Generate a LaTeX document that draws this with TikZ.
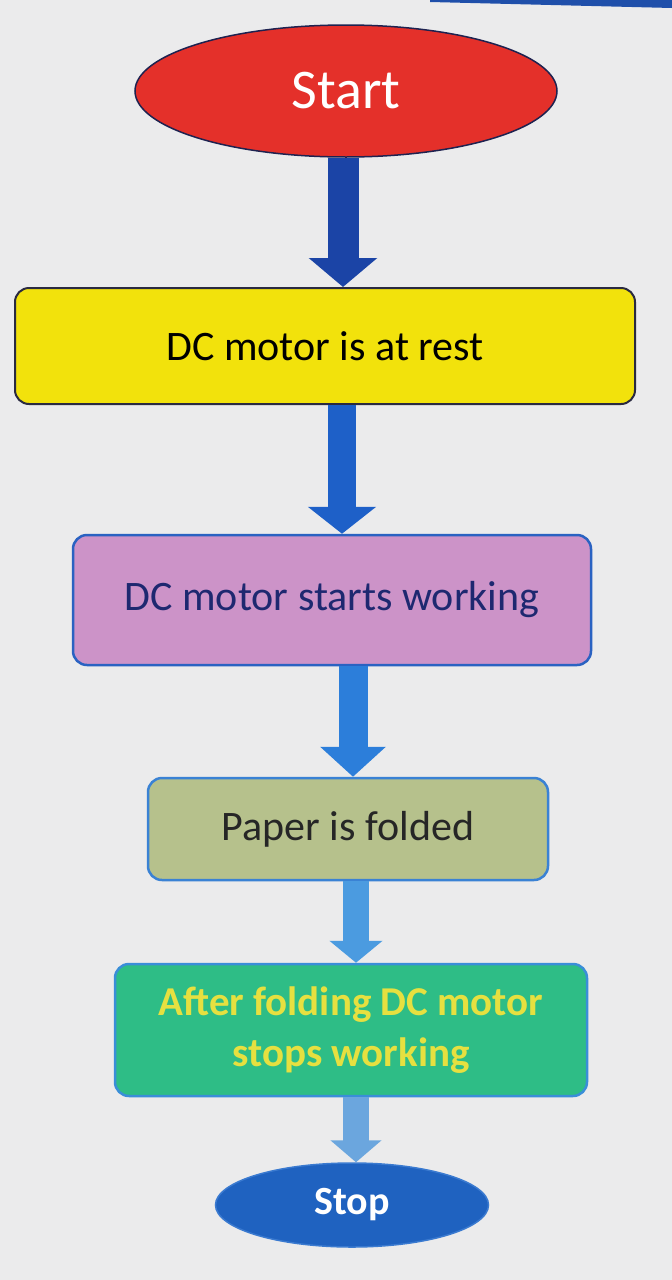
\documentclass[tikz,border=0pt]{standalone}
\usepackage{fontspec}
\setmainfont{Carlito}
\usetikzlibrary{arrows.meta,shapes.geometric}
\definecolor{bg}{HTML}{EBEBEC}
\definecolor{startred}{HTML}{E4302A}
\definecolor{startedge}{HTML}{1E2250}
\definecolor{yel}{HTML}{F2E20C}
\definecolor{yeledge}{HTML}{2A2A40}
\definecolor{pink}{HTML}{CC93C8}
\definecolor{pinkedge}{HTML}{2A62C2}
\definecolor{navytext}{HTML}{1E2870}
\definecolor{khaki}{HTML}{B6C18C}
\definecolor{khakiedge}{HTML}{3A82D4}
\definecolor{grn}{HTML}{2EBD86}
\definecolor{grnedge}{HTML}{3A8ED8}
\definecolor{yeltext}{HTML}{E6E040}
\definecolor{stopblue}{HTML}{1F62C0}
\definecolor{stopedge}{HTML}{3A7AD0}
\definecolor{aone}{HTML}{1B44A6}
\definecolor{atwo}{HTML}{1E60C8}
\definecolor{athree}{HTML}{2C7EDA}
\definecolor{afour}{HTML}{4B9BE0}
\definecolor{afive}{HTML}{6BA6DE}
\definecolor{topline}{HTML}{1F4FAA}
\tikzset{
  x=1pt, y=-1pt,
  term/.style={ellipse, inner sep=0pt, align=center},
  procbox/.style={rectangle, rounded corners=14pt, inner sep=0pt, align=center,
    font=\fontsize{42}{51}\selectfont},
}
\begin{document}
\begin{tikzpicture}
\fill[bg] (0,0) rectangle (672,1280);
\useasboundingbox (0,0) rectangle (672,1280);
\fill[topline] (430,0) -- (672,0) -- (672,8) -- (430,2) -- cycle;

\node[term, fill=startred, draw=startedge, line width=1.5pt,
      minimum width=422pt, minimum height=132pt,
      text=white, font=\fontsize{56}{60}\selectfont] (start) at (346,91) {Start};
\node[procbox, fill=yel, draw=yeledge, line width=2pt,
      minimum width=620pt, minimum height=116pt] (rest) at (325,346) {DC motor is at rest};
\node[procbox, fill=pink, draw=pinkedge, line width=2.5pt, text=navytext,
      minimum width=518pt, minimum height=130pt] (work) at (332,600) {DC motor starts working};
\node[procbox, fill=khaki, draw=khakiedge, line width=2.5pt, text=black!85,
      minimum width=400pt, minimum height=102pt] (paper) at (348,829) {Paper is folded};
\node[procbox, fill=grn, draw=grnedge, line width=2.5pt, text=yeltext,
      font=\fontsize{41}{51}\selectfont\bfseries,
      minimum width=472pt, minimum height=132pt] (after) at (351,1030) {After folding DC motor\\stops working};
\node[term, fill=stopblue, draw=stopedge, line width=1.5pt,
      minimum width=273pt, minimum height=84pt,
      text=white, font=\fontsize{40}{44}\selectfont\bfseries] (stop) at (352,1205) {Stop};

\draw[aone, line width=31pt, -{Triangle[width=67pt,length=29pt]}]
  ([xshift=-3pt]start.south) -- ([xshift=-3pt]start.south |- rest.north);
\draw[atwo, line width=28pt, -{Triangle[width=67pt,length=27pt]}]
  ([xshift=17pt]rest.south) -- ([xshift=17pt]rest.south |- work.north);
\draw[athree, line width=29pt, -{Triangle[width=64pt,length=30pt]}]
  ([xshift=21pt]work.south) -- ([xshift=21pt]work.south |- paper.north);
\draw[afour, line width=26pt, -{Triangle[width=52pt,length=22pt]}]
  ([xshift=8pt]paper.south) -- ([xshift=8pt]paper.south |- after.north);
\draw[afive, line width=26pt, -{Triangle[width=50pt,length=22pt]}]
  ([xshift=5pt]after.south) -- ([xshift=5pt]after.south |- stop.north);
\end{tikzpicture}
\end{document}
